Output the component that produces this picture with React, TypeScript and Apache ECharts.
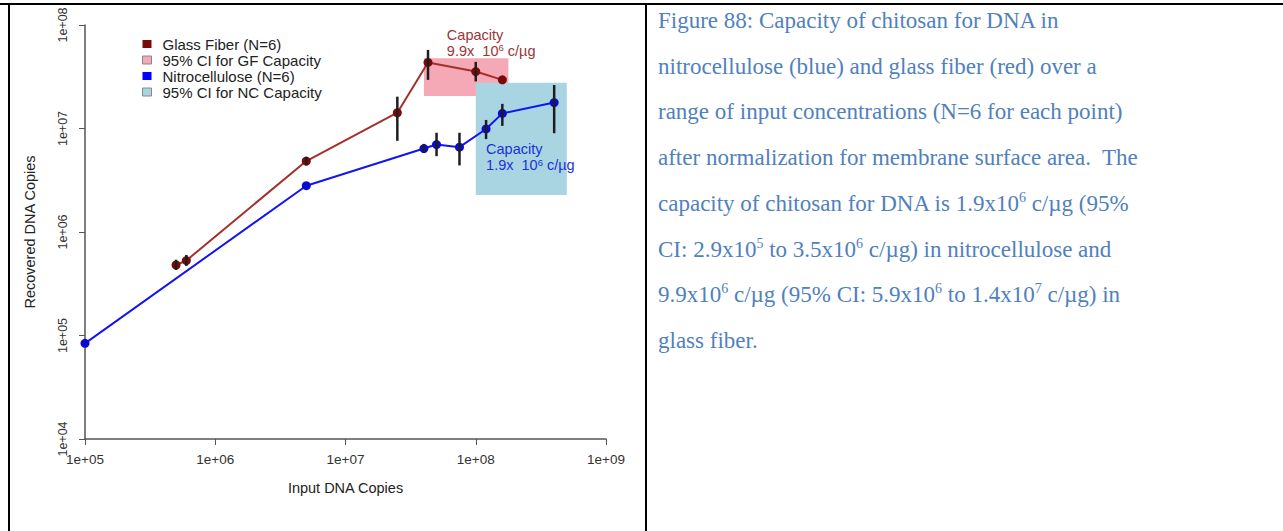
import React, { useEffect, useRef } from "react";
import * as echarts from "echarts";

// ---------- data ----------
const axisMinX = 1e5;
const axisMaxX = 1e9;
const axisMinY = 1e4;
const axisMaxY = 1e8;

const gfName = "Glass Fiber (N=6)";
const gfInput = [5e5, 6e5, 5e6, 2.5e7, 4.3e7, 1e8, 1.6e8];
const gfRecovered = [4.8e5, 5.3e5, 4.85e6, 1.42e7, 4.35e7, 3.55e7, 2.95e7];
const gfLow = [4.3e5, 4.7e5, 4.4e6, 7.6e6, 2.95e7, 2.85e7, null];
const gfHigh = [5.4e5, 6.0e5, 5.3e6, 2.03e7, 5.75e7, 4.4e7, null];

const ncName = "Nitrocellulose (N=6)";
const ncInput = [1e5, 5e6, 4e7, 5e7, 7.5e7, 1.2e8, 1.6e8, 4e8];
const ncRecovered = [8.4e4, 2.8e6, 6.4e6, 7.0e6, 6.6e6, 9.9e6, 1.4e7, 1.78e7];
const ncLow = [null, null, 5.8e6, 5.4e6, 4.4e6, 7.9e6, 1.06e7, 9.0e6];
const ncHigh = [null, null, 7.1e6, 9.1e6, 9.1e6, 1.21e7, 1.73e7, 2.63e7];

const gfCIName = "95% CI for GF Capacity";
const gfCIBox = [4.0e7, 1.78e8, 2.06e7, 4.76e7]; // xFrom, xTo, yFrom, yTo
const ncCIName = "95% CI for NC Capacity";
const ncCIBox = [1.0e8, 5.0e8, 2.28e6, 2.77e7];

const gfCapacityAt = [6.0e7, 9.6e7];
const gfCapacityText = ["Capacity", "9.9x  10", "6", " c/\u00b5g"];
const ncCapacityAt = [1.2e8, 7.5e6];
const ncCapacityText = ["Capacity", "1.9x  10", "6", " c/\u00b5g"];

const xTitle = "Input DNA Copies";
const yTitle = "Recovered DNA Copies";

// ---------- colours ----------
const gfLine = "#A3302B";
const gfMark = "#7A0A0A";
const ncLine = "#1414F0";
const ncMark = "#0A0AD0";
const pinkFill = "#F5A8B6";
const blueFill = "#A9D5E3";
const barColor = "#1e1e1e";
const SANS = "'Liberation Sans', Arial, Helvetica, sans-serif";

const fmtExp = (v: number) => {
  const e = Math.round(Math.log10(v));
  return "1e+" + String(e).padStart(2, "0");
};

function pairs(xs: number[], ys: number[]) {
  return xs.map((x, i) => [x, ys[i]]);
}
function bars(xs: number[], lo: (number | null)[], hi: (number | null)[]) {
  const out: number[][] = [];
  xs.forEach((x, i) => {
    if (lo[i] != null && hi[i] != null) out.push([x, lo[i] as number, hi[i] as number]);
  });
  return out;
}

const errorRender = (params: any, api: any) => {
  const p1 = api.coord([api.value(0), api.value(1)]);
  const p2 = api.coord([api.value(0), api.value(2)]);
  return {
    type: "line",
    shape: { x1: p1[0], y1: p1[1], x2: p2[0], y2: p2[1] },
    style: { stroke: barColor, lineWidth: 2.5 },
  };
};

const boxRender = (fill: string) => (params: any, api: any) => {
  const a = api.coord([api.value(0), api.value(3)]);
  const b = api.coord([api.value(1), api.value(2)]);
  return {
    type: "rect",
    shape: { x: a[0], y: a[1], width: b[0] - a[0], height: b[1] - a[1] },
    style: { fill },
  };
};

const labelRender = (parts: string[], color: string) => (params: any, api: any) => {
  const p = api.coord([api.value(0), api.value(1)]);
  return {
    type: "text",
    x: p[0],
    y: p[1],
    style: {
      text: `{a|${parts[0]}}\n{a|${parts[1]}}{s|${parts[2]}}{a|${parts[3]}}`,
      align: "left",
      verticalAlign: "top",
      fill: color,
      rich: {
        a: { fontSize: 14.5, fontFamily: SANS, fill: color, lineHeight: 16 },
        s: { fontSize: 9.5, fontFamily: SANS, fill: color, lineHeight: 16, verticalAlign: "top" },
      },
    },
  };
};

function Chart() {
  const ref = useRef<HTMLDivElement>(null);
  useEffect(() => {
    if (!ref.current) return;
    const chart = echarts.init(ref.current, undefined, { renderer: "svg" });
    const axisCommon = {
      logBase: 10,
      axisLine: { show: true, lineStyle: { color: "#555", width: 1.5 } },
      axisTick: { show: true, length: 6, lineStyle: { color: "#555", width: 1 } },
      splitLine: { show: false },
      nameLocation: "middle" as const,
      nameTextStyle: { fontSize: 14.5, color: "#222", fontFamily: SANS },
    };
    chart.setOption({
      animation: false,
      backgroundColor: "transparent",
      grid: { left: 85, top: 25, width: 521, height: 414, containLabel: false },
      legend: {
        orient: "vertical",
        left: 137,
        top: 31,
        itemWidth: 9,
        itemHeight: 8,
        itemGap: 0,
        icon: "rect",
        selectedMode: false,
        textStyle: { fontSize: 15, color: "#222", fontFamily: SANS, lineHeight: 16, padding: [0, 0, 0, 6] },
        data: [
          { name: gfName, itemStyle: { color: gfMark, borderWidth: 0 } },
          { name: gfCIName, itemStyle: { color: pinkFill, borderColor: "#888", borderWidth: 1 } },
          { name: ncName, itemStyle: { color: "#0000FF", borderWidth: 0 } },
          { name: ncCIName, itemStyle: { color: blueFill, borderColor: "#888", borderWidth: 1 } },
        ],
      },
      xAxis: {
        ...axisCommon,
        type: "log",
        min: axisMinX,
        max: axisMaxX,
        name: xTitle,
        nameGap: 41,
        axisLabel: { formatter: fmtExp, fontSize: 13.5, color: "#333", fontFamily: SANS, margin: 13 },
      },
      yAxis: {
        ...axisCommon,
        type: "log",
        min: axisMinY,
        max: axisMaxY,
        name: yTitle,
        nameGap: 48,
        axisLabel: { formatter: fmtExp, fontSize: 12.5, color: "#333", fontFamily: SANS, margin: 16, rotate: 90 },
      },
      series: [
        {
          name: gfCIName,
          type: "custom",
          renderItem: boxRender(pinkFill),
          data: [gfCIBox],
          encode: { x: [0, 1], y: [2, 3] },
          itemStyle: { color: pinkFill },
          z: 1,
          silent: true,
        },
        {
          name: ncCIName,
          type: "custom",
          renderItem: boxRender(blueFill),
          data: [ncCIBox],
          encode: { x: [0, 1], y: [2, 3] },
          itemStyle: { color: blueFill },
          z: 1,
          silent: true,
        },
        {
          name: gfName,
          type: "line",
          data: pairs(gfInput, gfRecovered),
          symbol: "circle",
          symbolSize: 9,
          lineStyle: { color: gfLine, width: 2 },
          itemStyle: { color: gfMark },
          z: 3,
        },
        {
          name: ncName,
          type: "line",
          data: pairs(ncInput, ncRecovered),
          symbol: "circle",
          symbolSize: 9,
          lineStyle: { color: ncLine, width: 2 },
          itemStyle: { color: ncMark },
          z: 3,
        },
        {
          name: "gf-err",
          type: "custom",
          renderItem: errorRender,
          data: bars(gfInput, gfLow, gfHigh),
          encode: { x: 0, y: [1, 2] },
          z: 4,
          silent: true,
        },
        {
          name: "nc-err",
          type: "custom",
          renderItem: errorRender,
          data: bars(ncInput, ncLow, ncHigh),
          encode: { x: 0, y: [1, 2] },
          z: 4,
          silent: true,
        },
        {
          name: "gf-label",
          type: "custom",
          renderItem: labelRender(gfCapacityText, "#9A3535"),
          data: [gfCapacityAt],
          encode: { x: 0, y: 1 },
          z: 5,
          silent: true,
        },
        {
          name: "nc-label",
          type: "custom",
          renderItem: labelRender(ncCapacityText, "#1E2FD8"),
          data: [ncCapacityAt],
          encode: { x: 0, y: 1 },
          z: 5,
          silent: true,
        },
      ],
    });
    return () => chart.dispose();
  }, []);
  return <div ref={ref} style={{ position: "absolute", left: 0, top: 0, width: 645, height: 531 }} />;
}

const supStyle: React.CSSProperties = { fontSize: 14, verticalAlign: "super", lineHeight: 0 };

export default function App() {
  return (
    <div
      style={{
        position: "absolute",
        left: 0,
        top: 0,
        width: 1283,
        height: 531,
        background: "#fff",
        overflow: "hidden",
      }}
    >
      <Chart />
      <div style={{ position: "absolute", left: 0, top: 3, width: 1283, height: 2, background: "#000" }} />
      <div style={{ position: "absolute", left: 8, top: 3, width: 2, height: 528, background: "#000" }} />
      <div style={{ position: "absolute", left: 645, top: 3, width: 2, height: 528, background: "#000" }} />
      <div
        style={{
          position: "absolute",
          left: 658,
          top: -2,
          fontFamily: "'Liberation Serif', 'Times New Roman', serif",
          fontSize: 23,
          lineHeight: "45.7px",
          color: "#4F81BD",
          whiteSpace: "nowrap",
        }}
      >
        Figure 88: Capacity of chitosan for DNA in
        <br />
        nitrocellulose (blue) and glass fiber (red) over a
        <br />
        range of input concentrations (N=6 for each point)
        <br />
        after normalization for membrane surface area.&nbsp; The
        <br />
        capacity of chitosan for DNA is 1.9x10<sup style={supStyle}>6</sup> c/µg (95%
        <br />
        CI: 2.9x10<sup style={supStyle}>5</sup> to 3.5x10<sup style={supStyle}>6</sup> c/µg) in nitrocellulose and
        <br />
        9.9x10<sup style={supStyle}>6</sup> c/µg (95% CI: 5.9x10<sup style={supStyle}>6</sup> to 1.4x10
        <sup style={supStyle}>7</sup> c/µg) in
        <br />
        glass fiber.
      </div>
    </div>
  );
}
